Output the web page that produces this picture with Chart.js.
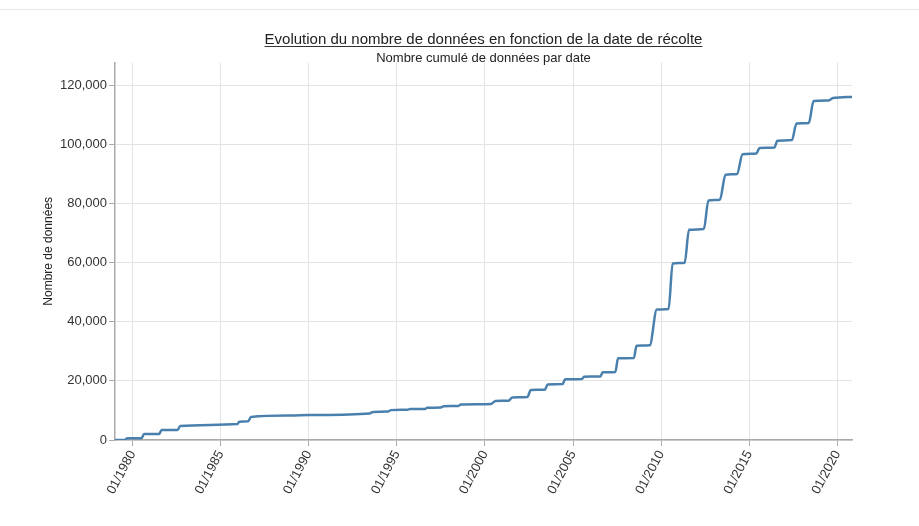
<!DOCTYPE html>
<html lang="fr">
<head>
<meta charset="utf-8">
<title>Evolution du nombre de données</title>
<script src="https://cdn.jsdelivr.net/npm/chart.js@4.4.1/dist/chart.umd.min.js"></script>
<style>
  html, body { margin: 0; padding: 0; background: #fff; }
  #wrap { position: relative; width: 919px; height: 526px; }
  #topline { position: absolute; left: 0; right: 0; top: 9px; height: 0; border-top: 1px solid #e8e8e2; }
  #chart { position: absolute; left: 0; top: 0; }
</style>
</head>
<body>
<div id="wrap">
  <div id="topline"></div>
  <canvas id="chart" width="919" height="526"></canvas>
</div>
<script>
// Dates of collection (decimal years) and cumulated number of records
const dates = [
  1979.0, 1979.55, 1979.7, 1980.5, 1980.65, 1981.5, 1981.65, 1982.55, 1982.7,
  1985.95, 1986.05, 1986.55, 1986.72, 1989.0, 1990.0, 1993.45, 1993.65,
  1994.5, 1994.65, 1995.6, 1995.75, 1996.6, 1996.72, 1997.5, 1997.65,
  1998.5, 1998.62, 2000.35, 2000.6, 2001.35, 2001.55, 2002.4, 2002.6,
  2003.4, 2003.55, 2004.4, 2004.55, 2005.5, 2005.62, 2006.55, 2006.68,
  2007.4, 2007.55, 2008.45, 2008.6, 2009.35, 2009.75, 2010.42, 2010.65,
  2011.33, 2011.58, 2012.42, 2012.68, 2013.33, 2013.65, 2014.3, 2014.62,
  2015.4, 2015.58, 2016.42, 2016.6, 2017.42, 2017.68, 2018.38, 2018.65,
  2019.5, 2019.75, 2020.83
];
const counts = [
  0, 0, 600, 600, 2000, 2000, 3400, 3400, 4700,
  5400, 6200, 6300, 7800, 8250, 8450, 9000, 9500,
  9600, 10100, 10250, 10450, 10500, 10900, 10950, 11450,
  11500, 12000, 12200, 13200, 13300, 14400, 14500, 16900,
  17000, 18800, 18900, 20500, 20600, 21400, 21500, 22900,
  23000, 27600, 27700, 31850, 32000, 44100, 44300, 59700,
  59900, 71100, 71300, 81000, 81200, 89700, 89900, 96600,
  96900, 98700, 98900, 101200, 101400, 107000, 107200, 114600,
  114800, 115600, 116000
];
const xTickYears = [1980, 1985, 1990, 1995, 2000, 2005, 2010, 2015, 2020];
const yTickValues = [0, 20000, 40000, 60000, 80000, 100000, 120000];
const yMax = 127600;

const FONT = "'Liberation Sans', Arial, sans-serif";

// Underline under the main title
const titleUnderline = {
  id: 'titleUnderline',
  afterDraw(chart) {
    const tb = chart.titleBlock;
    if (!tb) return;
    const ctx = chart.ctx;
    const opts = tb.options;
    const fontSize = opts.font.size;
    ctx.save();
    ctx.font = fontSize + 'px ' + FONT;
    const w = ctx.measureText(opts.text).width;
    const cx = (tb.left + tb.right) / 2;
    const y = tb.top + opts.padding.top + fontSize * 1.2 / 2 + 6.5;
    ctx.strokeStyle = '#333';
    ctx.lineWidth = 1;
    ctx.beginPath();
    ctx.moveTo(cx - w / 2, y);
    ctx.lineTo(cx + w / 2, y);
    ctx.stroke();
    ctx.restore();
  }
};

const ctx = document.getElementById('chart').getContext('2d');
new Chart(ctx, {
  type: 'line',
  data: {
    datasets: [{
      data: dates.map((d, i) => ({ x: d, y: counts[i] })),
      borderColor: '#4a80ad',
      borderWidth: 2.5,
      pointRadius: 0,
      fill: false,
      cubicInterpolationMode: 'monotone'
    }]
  },
  options: {
    responsive: false,
    animation: false,
    layout: { padding: { left: 0, right: 67, top: 0, bottom: 0 } },
    plugins: {
      legend: { display: false },
      tooltip: { enabled: false },
      title: {
        display: true,
        fullSize: false,
        text: 'Evolution du nombre de données en fonction de la date de récolte',
        color: '#222',
        font: { family: FONT, size: 15, weight: 'normal', lineHeight: 1.2 },
        padding: { top: 31, bottom: 0 }
      },
      subtitle: {
        display: true,
        fullSize: false,
        text: 'Nombre cumulé de données par date',
        color: '#222',
        font: { family: FONT, size: 13, weight: 'normal', lineHeight: 1.2 },
        padding: { top: 2, bottom: -4 }
      }
    },
    scales: {
      x: {
        type: 'linear',
        min: dates[0],
        max: dates[dates.length - 1],
        afterBuildTicks(scale) {
          scale.ticks = xTickYears.map(v => ({ value: v }));
        },
        afterFit(scale) {
          scale.height = 86;
        },
        ticks: {
          color: '#333',
          font: { family: FONT, size: 13 },
          minRotation: 62,
          maxRotation: 62,
          padding: 2,
          autoSkip: false,
          callback: v => '01/' + v
        },
        grid: { color: '#e3e3e3', tickColor: '#aaa', tickLength: 6 },
        border: { color: '#aaa', width: 1.5 }
      },
      y: {
        min: 0,
        max: yMax,
        afterBuildTicks(scale) {
          scale.ticks = yTickValues.map(v => ({ value: v }));
        },
        afterFit(scale) {
          scale.width = 115;
        },
        ticks: {
          color: '#333',
          font: { family: FONT, size: 13 },
          padding: 2,
          callback: v => v.toLocaleString('en-US')
        },
        grid: { color: '#e3e3e3', tickColor: '#aaa', tickLength: 6 },
        border: { color: '#aaa', width: 1.5 },
        title: {
          display: true,
          text: 'Nombre de données',
          color: '#222',
          font: { family: FONT, size: 12 },
          padding: { top: 41, bottom: 0 }
        }
      }
    }
  },
  plugins: [titleUnderline]
});
</script>
</body>
</html>
